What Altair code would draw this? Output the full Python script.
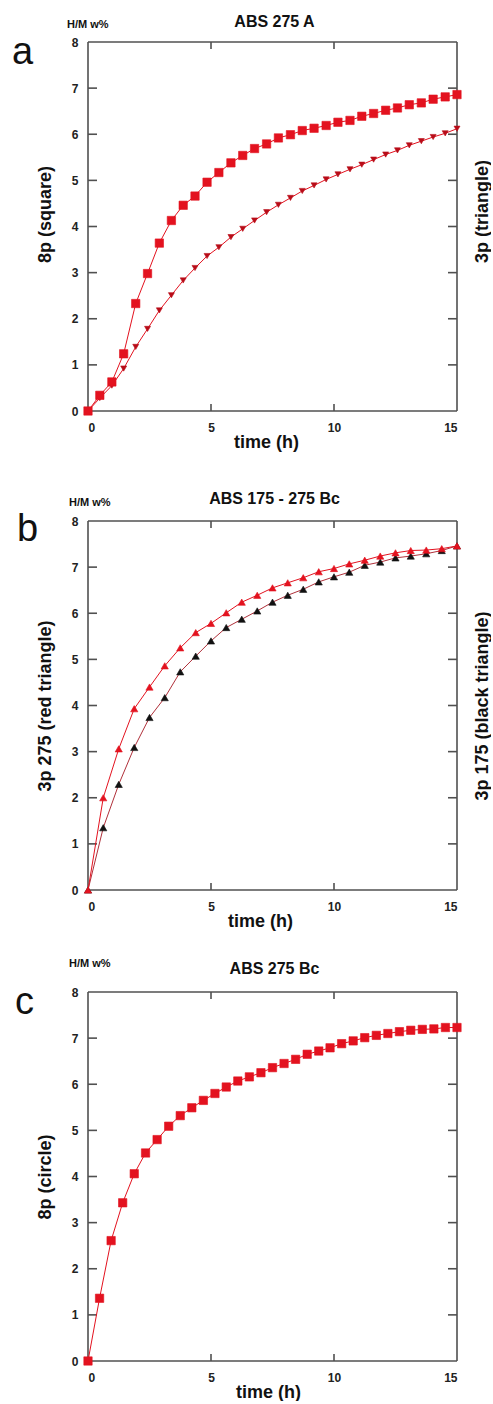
import altair as alt
import pandas as pd

# ---------------- data ----------------
a_time = [0, 0.48, 0.97, 1.45, 1.94, 2.42, 2.9, 3.39, 3.87, 4.35, 4.84, 5.32, 5.81, 6.29,
          6.77, 7.26, 7.74, 8.23, 8.71, 9.19, 9.68, 10.16, 10.65, 11.13, 11.61, 12.1, 12.58,
          13.06, 13.55, 14.03, 14.52, 15.0]
a_square = [0, 0.34, 0.63, 1.24, 2.33, 2.98, 3.64, 4.13, 4.46, 4.66, 4.96, 5.17, 5.38, 5.54,
            5.69, 5.79, 5.92, 5.99, 6.08, 6.13, 6.19, 6.26, 6.30, 6.39, 6.45, 6.52, 6.57,
            6.64, 6.68, 6.76, 6.81, 6.86]
a_triangle = [0, 0.28, 0.55, 0.92, 1.39, 1.78, 2.18, 2.51, 2.83, 3.10, 3.36, 3.55, 3.77, 3.95,
              4.13, 4.31, 4.47, 4.62, 4.77, 4.89, 5.02, 5.13, 5.24, 5.34, 5.45, 5.56, 5.65,
              5.76, 5.85, 5.94, 6.02, 6.12]

b_time = [0, 0.62, 1.25, 1.88, 2.5, 3.12, 3.75, 4.38, 5.0, 5.62, 6.25, 6.88, 7.5, 8.12,
          8.75, 9.38, 10.0, 10.62, 11.25, 11.88, 12.5, 13.12, 13.75, 14.38, 15.0]
b_red = [0, 2.0, 3.06, 3.93, 4.40, 4.86, 5.25, 5.58, 5.78, 6.01, 6.24, 6.39, 6.55, 6.66,
         6.77, 6.90, 6.97, 7.07, 7.15, 7.24, 7.31, 7.36, 7.37, 7.40, 7.46]
b_black = [0, 1.35, 2.29, 3.09, 3.74, 4.17, 4.73, 5.07, 5.40, 5.69, 5.87, 6.05, 6.24, 6.39,
           6.52, 6.68, 6.79, 6.89, 7.04, 7.11, 7.20, 7.24, 7.29, 7.36, 7.46]

c_time = [0, 0.47, 0.94, 1.41, 1.88, 2.34, 2.81, 3.28, 3.75, 4.22, 4.69, 5.16, 5.62, 6.09,
          6.56, 7.03, 7.5, 7.97, 8.44, 8.91, 9.38, 9.84, 10.31, 10.78, 11.25, 11.72, 12.19,
          12.66, 13.12, 13.59, 14.06, 14.53, 15.0]
c_square = [0, 1.36, 2.61, 3.43, 4.06, 4.51, 4.80, 5.09, 5.32, 5.49, 5.65, 5.80, 5.94, 6.07,
            6.16, 6.25, 6.36, 6.45, 6.54, 6.65, 6.72, 6.79, 6.88, 6.94, 7.01, 7.06, 7.10,
            7.14, 7.17, 7.19, 7.20, 7.23, 7.23]

panel_titles = ["ABS 275 A", "ABS 175 - 275 Bc", "ABS 275 Bc"]
panel_letters = ["a", "b", "c"]
left_titles = ["8p (square)", "3p 275 (red triangle)", "8p (circle)"]
right_titles = ["3p (triangle)", "3p 175 (black triangle)", None]
unit_label = "H/M w%"
x_title = "time (h)"
x_ticks = [0, 5, 10, 15]
y_ticks = [0, 1, 2, 3, 4, 5, 6, 7, 8]
x_inner_ticks = [5, 10]
y_inner_ticks = [1, 2, 3, 4, 5, 6, 7]

# ---------------- styling ----------------
RED = "#e3121f"
DARK_RED = "#b80c18"
BLACK = "#111111"
FRAME = "#505050"
FONT = "Liberation Sans"
W = H = 369
YTICK = 9
XTICK = 7

X_SCALE = dict(domain=[0, 15], nice=False, zero=False)
Y_SCALE = dict(domain=[0, 8], nice=False, zero=False)


def x_enc(orient, title_x):
    if orient == "bottom":
        ax = alt.Axis(orient="bottom", values=x_ticks, ticks=False, tickSize=0, domain=False,
                      grid=False, labelPadding=11, title=x_title, titlePadding=0,
                      titleX=title_x, format="d")
    else:
        ax = alt.Axis(orient="top", values=x_ticks, ticks=False, tickSize=0, domain=False,
                      grid=False, labels=False, title=None)
    return alt.X("t:Q", scale=alt.Scale(**X_SCALE), axis=ax)


def y_enc(orient, title, title_y):
    if orient == "left":
        ax = alt.Axis(orient="left", values=y_ticks, ticks=False, tickSize=0, domain=False,
                      grid=False, labelPadding=10, title=title, titlePadding=17,
                      titleY=title_y, format="d")
    else:
        if title is None:
            ax = alt.Axis(orient="right", values=y_ticks, ticks=False, tickSize=0, domain=False,
                          grid=False, labels=False, title=None)
        else:
            ax = alt.Axis(orient="right", values=y_ticks, ticks=False, tickSize=0, domain=False,
                          grid=False, labels=False, title=title, titleAngle=270,
                          titlePadding=34, titleY=title_y)
    return alt.Y("v:Q", scale=alt.Scale(**Y_SCALE), axis=ax)


def series(times, values, shape, size, fill, line_color, xo, yo, ytitle, tx, ty, opacity=1.0):
    df = pd.DataFrame({"t": times, "v": values})
    base = alt.Chart(df).encode(x=x_enc(xo, tx), y=y_enc(yo, ytitle, ty))
    line = base.mark_line(color=line_color, strokeWidth=1, opacity=opacity)
    pts = base.mark_point(shape=shape, size=size, filled=True, fill=fill, color=fill,
                          stroke=fill, strokeWidth=0.6, opacity=opacity)
    return alt.layer(line, pts)


def frame_and_ticks():
    # the plot frame: rules at the domain ends, drawn through the scales
    yedge = pd.DataFrame({"v": [0, 8]})
    xedge = pd.DataFrame({"t": [0, 15]})
    ydf = pd.DataFrame({"v": y_inner_ticks})
    xdf = pd.DataFrame({"t": x_inner_ticks})
    yenc = alt.Y("v:Q", scale=alt.Scale(**Y_SCALE), axis=None)
    xenc = alt.X("t:Q", scale=alt.Scale(**X_SCALE), axis=None)
    style = dict(color=FRAME, strokeWidth=1.6)
    hframe = alt.Chart(yedge).mark_rule(**style).encode(y=yenc, x=alt.value(0), x2=alt.value(W))
    vframe = alt.Chart(xedge).mark_rule(**style).encode(x=xenc, y=alt.value(0), y2=alt.value(H))
    left = alt.Chart(ydf).mark_rule(**style).encode(y=yenc, x=alt.value(0), x2=alt.value(YTICK))
    right = alt.Chart(ydf).mark_rule(**style).encode(y=yenc, x=alt.value(W - YTICK), x2=alt.value(W))
    bottom = alt.Chart(xdf).mark_rule(**style).encode(x=xenc, y=alt.value(H - XTICK), y2=alt.value(H))
    top = alt.Chart(xdf).mark_rule(**style).encode(x=xenc, y=alt.value(0), y2=alt.value(XTICK))
    return alt.layer(hframe, vframe, left, right, bottom, top)


def annotations(panel_title, title_dy, letter, letter_dx, letter_dy, unit_dx, unit_dy):
    tdf = pd.DataFrame({"s": [panel_title]})
    ldf = pd.DataFrame({"s": [letter]})
    udf = pd.DataFrame({"s": [unit_label]})
    ttl = alt.Chart(tdf).mark_text(font=FONT, fontSize=16, fontWeight="bold", align="center",
                                   baseline="alphabetic", color=BLACK).encode(
        text="s:N", x=alt.value(W / 2 + 2), y=alt.value(title_dy))
    let = alt.Chart(ldf).mark_text(font=FONT, fontSize=38, align="left", baseline="alphabetic",
                                   color=BLACK).encode(text="s:N", x=alt.value(letter_dx),
                                                        y=alt.value(letter_dy))
    uni = alt.Chart(udf).mark_text(font=FONT, fontSize=11, fontWeight="bold", align="left",
                                   baseline="alphabetic", color=BLACK).encode(
        text="s:N", x=alt.value(unit_dx), y=alt.value(unit_dy))
    return [ttl, let, uni]


# panel a
a_sq = series(a_time, a_square, "square", 70, RED, RED, "bottom", "left", left_titles[0], 178, 172)
a_tr = series(a_time, a_triangle, "triangle-down", 36, DARK_RED, RED, "top", "right",
              right_titles[0], 178, 169)
panel_a = alt.layer(
    frame_and_ticks(), a_tr, a_sq,
    *annotations(panel_titles[0], -15, panel_letters[0], -76, 22, -21, -14)
).resolve_scale(x="independent", y="independent").properties(width=W, height=H)

# panel b
b_rd = series(b_time, b_red, "triangle-up", 52, RED, RED, "bottom", "left", left_titles[1], 172, H / 2)
b_bk = series(b_time, b_black, "triangle-up", 52, BLACK, "#b0303a", "top", "right",
              right_titles[1], 172, H / 2)
panel_b = alt.layer(
    frame_and_ticks(), b_bk, b_rd,
    *annotations(panel_titles[1], -17, panel_letters[1], -71, 20, -19, -15)
).resolve_scale(x="independent", y="independent").properties(width=W, height=H)

# panel c
c_sq = series(c_time, c_square, "square", 70, RED, RED, "bottom", "left", left_titles[2], 180, H / 2)
c_ghost = series(c_time, c_square, "square", 70, RED, RED, "top", "right", right_titles[2],
                 180, H / 2, opacity=0)
panel_c = alt.layer(
    frame_and_ticks(), c_ghost, c_sq,
    *annotations(panel_titles[2], -18, panel_letters[2], -73, 22, -19, -25)
).resolve_scale(x="independent", y="independent").properties(width=W, height=H)

chart = alt.vconcat(
    panel_a,
    alt.vconcat(panel_b, panel_c, spacing=102, bounds="flush"),
    spacing=110, bounds="flush",
).properties(
    padding={"left": 12, "top": 14, "right": 0, "bottom": 0},
    background="white",
).configure_view(
    strokeWidth=0
).configure_axis(
    labelFont=FONT, labelFontSize=12, labelFontWeight="bold",
    labelColor="#222222", titleFont=FONT, titleFontSize=18, titleFontWeight="bold",
    titleColor="#111111"
)

chart.save("out.html", embed_options={"renderer": "svg", "actions": False})
